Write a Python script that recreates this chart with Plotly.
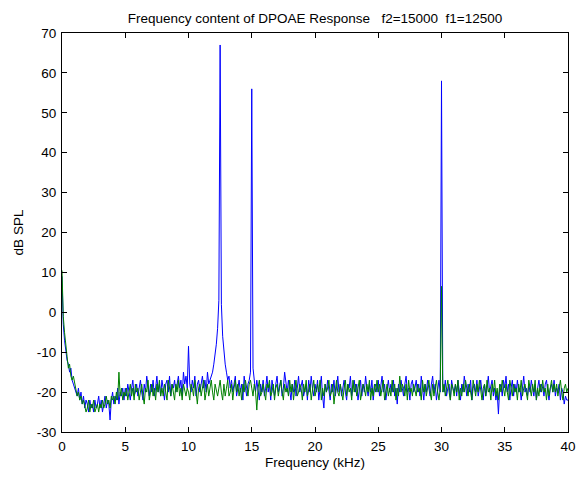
import numpy as np
import plotly.graph_objects as go

# Frequency bins (kHz), 0.1 kHz resolution, 0..40
freq_khz = [round(i * 0.1, 1) for i in range(401)]

# Blue series (dB SPL)
blue_db = [
    9, -3, -7, -10, -12, -13, -15, -14, -17, -18,
    -19, -20, -21, -19, -22, -20, -23, -21, -24, -22,
    -23, -25, -22, -24, -23, -25, -22, -24, -23, -21,
    -24, -22, -25, -23, -21, -24, -22, -23, -27, -22,
    -20, -23, -21, -22, -19, -23, -20, -21, -19, -22,
    -19, -21, -18, -20, -22, -19, -17, -21, -20, -18,
    -21, -19, -17, -20, -22, -18, -20, -16, -19, -21,
    -18, -20, -17, -21, -19, -16, -20, -18, -21, -17,
    -19, -22, -18, -17, -20, -16, -21, -18, -19, -17,
    -20, -18, -16, -19, -17, -21, -15, -18, -16, -19,
    -8.5, -18, -20, -17, -19, -16, -21, -18, -17, -20,
    -18, -16, -19, -17, -20, -15, -18, -17, -16, -15,
    -13, -11, -8, -4, 3, 67, 2, -6, -10, -13,
    -15, -17, -16, -19, -17, -20, -18, -16, -21, -19,
    -17, -20, -18, -22, -16, -19, -21, -18, -17, -15,
    56, -14, -18, -20, -17, -19, -22, -18, -20, -17,
    -21, -19, -16, -20, -18, -22, -17, -19, -21, -18,
    -16, -20, -18, -17, -21, -19, -15, -18, -20, -17,
    -19, -22, -18, -20, -17, -21, -19, -16, -20, -18,
    -17, -21, -19, -18, -22, -17, -20, -16, -19, -21,
    -18, -20, -17, -22, -19, -16, -21, -24, -18, -20,
    -17, -19, -22, -18, -20, -17, -21, -19, -16, -20,
    -18, -21, -19, -17, -20, -22, -18, -19, -16, -21,
    -19, -17, -20, -18, -22, -19, -17, -21, -18, -20,
    -16, -19, -21, -18, -20, -17, -22, -19, -18, -20,
    -17, -21, -19, -16, -20, -18, -22, -19, -17, -20,
    -18, -20, -17, -21, -19, -23, -18, -20, -17, -19,
    -21, -18, -16, -20, -19, -22, -18, -17, -20, -19,
    -17, -20, -18, -21, -16, -19, -22, -18, -20, -17,
    -19, -21, -18, -16, -20, -18, -22, -19, -17, -20,
    58, -18, -20, -17, -21, -19, -18, -22, -17, -19,
    -20, -18, -21, -17, -19, -22, -18, -20, -16, -19,
    -21, -18, -20, -17, -22, -19, -18, -20, -17, -21,
    -19, -17, -20, -22, -18, -21, -19, -16, -20, -18,
    -17, -21, -19, -22, -20, -25.5, -19, -18, -21, -17,
    -19, -16, -20, -18, -22, -19, -17, -21, -18, -20,
    -17, -20, -19, -22, -18, -16, -20, -19, -21, -18,
    -20, -17, -19, -21, -18, -22, -19, -17, -20, -18,
    -19, -21, -18, -17, -20, -22, -19, -18, -20, -17,
    -21, -19, -20, -18, -22, -19, -20, -23, -21, -22,
    -22,
]

# Green series (dB SPL)
green_db = [
    10.5, -1, -5, -9, -11, -14, -13, -16, -17, -16,
    -18, -19, -21, -20, -22, -21, -23, -22, -24, -25,
    -24, -22, -25, -23, -24, -22, -25, -24, -23, -25,
    -23, -24, -22, -24, -23, -21, -23, -22, -24, -21,
    -22, -21, -23, -20, -22, -15, -21, -19, -22, -20,
    -21, -19, -22, -20, -18, -21, -19, -22, -18, -20,
    -19, -22, -20, -18, -21, -23, -19, -20, -17, -22,
    -20, -18, -21, -19, -22, -18, -20, -17, -21, -19,
    -21, -18, -20, -22, -17, -19, -21, -18, -20, -22,
    -18, -20, -17, -21, -19, -22, -18, -20, -21, -19,
    -20, -22, -18, -19, -21, -17, -20, -23, -19, -18,
    -21, -19, -17, -22, -20, -18, -21, -19, -17, -20,
    -22, -18, -20, -21, -19, -17, -20, -22, -18, -21,
    -19, -17, -21, -20, -18, -22, -19, -17, -20, -18,
    -21, -19, -22, -18, -20, -17, -19, -21, -18, -17,
    -19, -21, -18, -20, -24.5, -19, -17, -21, -20, -18,
    -20, -22, -18, -19, -17, -21, -20, -18, -22, -19,
    -18, -21, -19, -17, -20, -22, -18, -20, -19, -21,
    -17, -20, -18, -22, -19, -17, -21, -20, -18, -19,
    -22, -18, -20, -17, -21, -19, -18, -22, -20, -17,
    -21, -19, -18, -20, -17, -22, -19, -21, -18, -20,
    -19, -17, -21, -20, -18, -23, -19, -17, -20, -21,
    -18, -20, -22, -19, -17, -21, -18, -20, -19, -22,
    -17, -20, -18, -21, -19, -17, -22, -20, -18, -19,
    -21, -18, -20, -17, -22, -19, -21, -18, -20, -17,
    -20, -18, -21, -19, -17, -22, -20, -18, -21, -19,
    -21, -17, -20, -18, -22, -19, -21, -16, -20, -18,
    -19, -21, -18, -22, -17, -20, -19, -21, -18, -20,
    -21, -18, -20, -19, -22, -17, -20, -18, -21, -19,
    -17, -20, -22, -18, -21, -19, -17, -20, -22, -19,
    6.5, -20, -18, -21, -19, -17, -20, -22, -18, -19,
    -21, -18, -20, -17, -22, -19, -21, -18, -20, -17,
    -19, -21, -18, -20, -22, -17, -19, -21, -18, -20,
    -17, -20, -22, -19, -18, -21, -17, -20, -19, -22,
    -18, -20, -17, -21, -19, -22, -18, -20, -17, -19,
    -21, -18, -20, -22, -17, -19, -21, -18, -20, -19,
    -22, -18, -20, -17, -21, -19, -18, -20, -22, -17,
    -19, -21, -18, -20, -17, -22, -19, -21, -18, -20,
    -17, -20, -19, -22, -18, -21, -19, -17, -20, -18,
    -20, -18, -21, -19, -17, -20, -22, -19, -18, -20,
    -19,
]

x_ticks = [0, 5, 10, 15, 20, 25, 30, 35, 40]
y_ticks = [-30, -20, -10, 0, 10, 20, 30, 40, 50, 60, 70]

title_text = "Frequency content of DPOAE Response   f2=15000  f1=12500"
x_label = "Frequency (kHz)"
y_label = "dB SPL"

FONT = "Liberation Sans, Arial, sans-serif"

fig = go.Figure()
fig.add_trace(go.Scatter(x=freq_khz, y=blue_db, mode="lines",
                         line=dict(color="#0000ff", width=1), showlegend=False))
fig.add_trace(go.Scatter(x=freq_khz, y=green_db, mode="lines",
                         line=dict(color="#008000", width=1), showlegend=False))

axis_common = dict(
    showline=True, linecolor="#000000", linewidth=1, mirror="ticks",
    ticks="inside", ticklen=5, tickcolor="#000000", tickwidth=1,
    showgrid=False, zeroline=False, automargin=False,
    tickfont=dict(family=FONT, size=13.5, color="#000000"),
)

fig.update_layout(
    width=579, height=479,
    margin=dict(l=62, r=11, t=33, b=47, autoexpand=False),
    paper_bgcolor="#ffffff", plot_bgcolor="#ffffff",
    title=dict(text=title_text, x=0.5, xanchor="center", xref="paper",
               y=1 - 18 / 479, yanchor="middle", yref="container",
               font=dict(family=FONT, size=13.5, color="#000000")),
    xaxis=dict(range=[0, 40], tickvals=x_ticks, ticktext=[str(v) for v in x_ticks],
               ticklabelstandoff=2,
               title=dict(text=x_label, standoff=4,
                          font=dict(family=FONT, size=13.5, color="#000000")),
               **axis_common),
    yaxis=dict(range=[-30, 70], tickvals=y_ticks, ticktext=[str(v) for v in y_ticks],
               ticklabelstandoff=2,
               title=dict(text=y_label, standoff=10,
                          font=dict(family=FONT, size=13.5, color="#000000")),
               **axis_common),
)

fig.write_html("out.html", config={"displayModeBar": False},
               post_script="document.body.style.margin='0px';")
